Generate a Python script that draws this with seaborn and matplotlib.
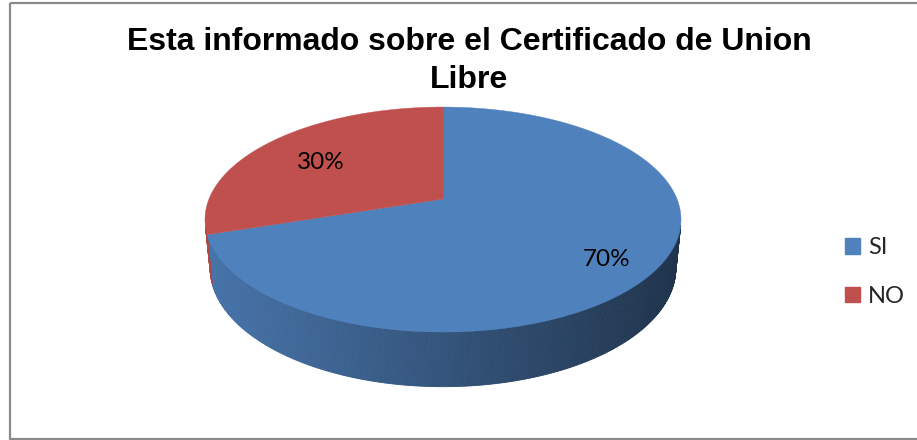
import numpy as np
import matplotlib
matplotlib.use("Agg")
import matplotlib.pyplot as plt
import seaborn as sns
from matplotlib.patches import Patch, Rectangle

titulo = "Esta informado sobre el Certificado de Union\nLibre"
categorias = ["SI", "NO"]
porcentajes = [70, 30]
colores = ["#4f81bd", "#c0504d"]

sns.set_theme(style="white")
plt.rcParams["font.family"] = ["Liberation Sans", "DejaVu Sans"]

W, H = 917, 440
fig = plt.figure(figsize=(W / 100, H / 100), dpi=100)
ax = fig.add_axes([0, 0, 1, 1])
ax.set_xlim(0, W)
ax.set_ylim(H, 0)
ax.axis("off")

# marco del grafico
ax.add_patch(Rectangle((9.5, 3.5), 912, 436, fill=False, edgecolor="#8a8a8a", lw=1.6))

# vista 3D del pastel (perspectiva)
elev = np.radians(27)
dist = 4.88
grosor = 0.228
cx, cy = 443, 199


def proyectar(x, y, z):
    d = dist + y * np.cos(elev) - z * np.sin(elev)
    up = y * np.sin(elev) + z * np.cos(elev)
    return x / d, -up / d


t = np.linspace(0, 2 * np.pi, 721)
rx, ry = proyectar(np.sin(t), np.cos(t), 0)
sx = 476 / (rx.max() - rx.min())
sy = 225 / (ry.max() - ry.min())


def pantalla(x, y, z):
    px, py = proyectar(x, y, z)
    return cx + sx * px, cy + sy * py


paleta = sns.color_palette(colores)
fracs = np.array(porcentajes) / sum(porcentajes)
bordes = np.concatenate([[0], np.cumsum(fracs)]) * 2 * np.pi
xmin, xmax = cx - 238, cx + 238

# caras laterales
for i in range(len(porcentajes)):
    a = np.linspace(bordes[i], bordes[i + 1], int(np.degrees(bordes[i + 1] - bordes[i])) * 2 + 2)
    for a0, a1 in zip(a[:-1], a[1:]):
        am = (a0 + a1) / 2
        if np.cos(am) >= -1 / (dist * np.cos(elev)):
            continue
        xs, ys = [], []
        for aa, z in [(a0, 0), (a1, 0), (a1, -grosor), (a0, -grosor)]:
            px, py = pantalla(np.sin(aa), np.cos(aa), z)
            xs.append(px)
            ys.append(py)
        f = np.clip((np.mean(xs) - xmin) / (xmax - xmin), 0, 1)
        k = 0.9 - 0.5 * f
        c = tuple(np.array(paleta[i]) * k)
        ax.fill(xs, ys, color=c, lw=0.6, ec=c)

# cara superior
for i in range(len(porcentajes)):
    a = np.linspace(bordes[i], bordes[i + 1], 200)
    px, py = pantalla(np.sin(a), np.cos(a), 0 * a)
    ax.fill(np.r_[cx, px], np.r_[cy, py], color=paleta[i], lw=0.3, ec=paleta[i])

# etiquetas de porcentaje
for i, p in enumerate(porcentajes):
    am = (bordes[i] + bordes[i + 1]) / 2
    px, py = pantalla(0.75 * np.sin(am), 0.75 * np.cos(am), 0)
    ax.text(px + 9, py + 8, f"{p}%", ha="center", va="center", fontsize=17.5,
            family=["Lato", "DejaVu Sans"], color="black")

ax.text(469, 27, titulo, ha="center", va="top", fontsize=23, fontweight="bold",
        linespacing=1.33, color="black")

handles = [Patch(color=paleta[i]) for i in range(len(categorias))]
ax.legend(handles, categorias, loc="center left", bbox_to_anchor=(824, 272),
          bbox_transform=ax.transData, frameon=False, prop={"family": "Lato", "size": 17},
          handlelength=0.62, handleheight=0.62, handletextpad=0.35, labelspacing=1.15)

fig.savefig("out.png", dpi=100)
